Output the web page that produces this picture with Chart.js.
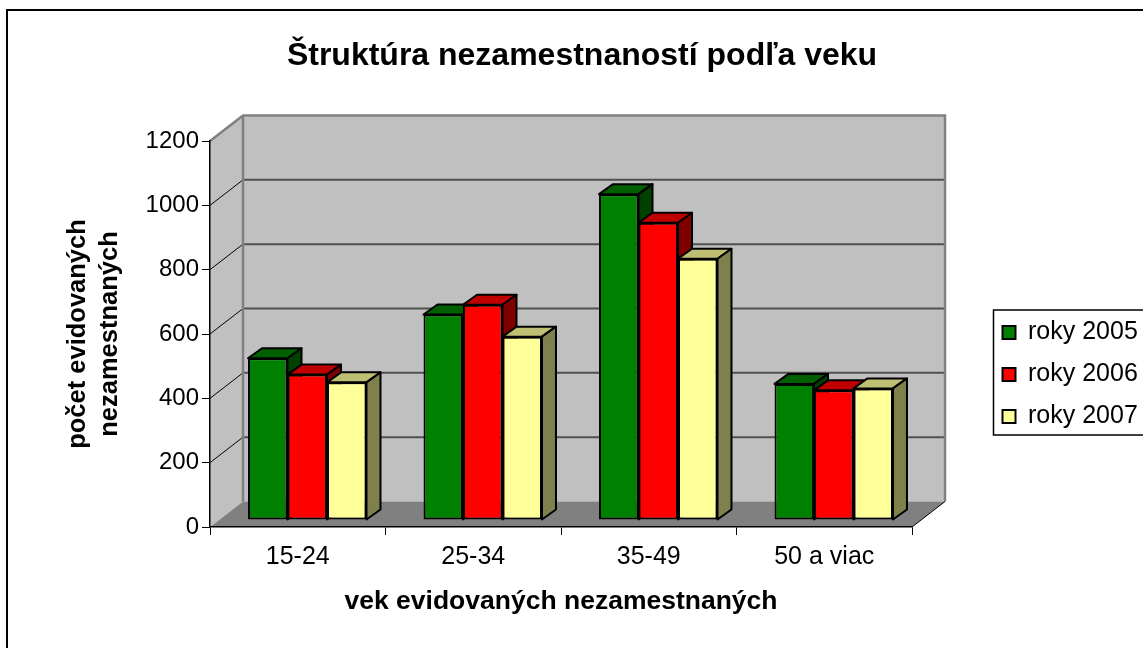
<!DOCTYPE html>
<html lang="sk">
  <head>
    <meta charset="UTF-8" />
    <title>Štruktúra nezamestnaností podľa veku</title>
    <script src="https://cdn.jsdelivr.net/npm/chart.js@4"></script>
    <style>
      html, body { margin: 0; padding: 0; background: #fff; }
      canvas { display: block; }
    </style>
  </head>

  <body>
    <canvas id="myChart" width="1143" height="648"></canvas>

    <script>
      const categories = ["15-24", "25-34", "35-49", "50 a viac"];
      const roky2005 = [503, 639, 1013, 423];
      const roky2006 = [452, 669, 924, 403];
      const roky2007 = [428, 570, 812, 409];
      const yTicks = [0, 200, 400, 600, 800, 1000, 1200];

      const FONT = "'Liberation Sans', Arial, sans-serif";

      // how far the back wall sits behind the axes, and the bars inside that depth
      const wallDepth = { x: 33, y: -25.5 };
      const barShift = { x: 9.5, y: -7 };
      const barDepth = { x: 14, y: -10 };

      const poly = (c, pts, fill) => {
        c.beginPath();
        pts.forEach((p, i) => (i ? c.lineTo(p[0], p[1]) : c.moveTo(p[0], p[1])));
        c.closePath();
        if (fill) {
          c.fillStyle = fill;
          c.fill();
        }
      };

      const walls = {
        id: "walls",
        beforeDraw(chart) {
          const c = chart.ctx;
          const { left, right, top, bottom } = chart.chartArea;
          const dx = wallDepth.x;
          const dy = wallDepth.y;
          c.save();

          // chart frame, cut off by the picture at the bottom and the right
          c.strokeStyle = "#000";
          c.lineWidth = 2;
          c.strokeRect(7, 10, 1200, 700);

          // side wall, back wall, floor
          poly(c, [[left, top], [left + dx, top + dy], [left + dx, bottom + dy], [left, bottom]], "#c0c0c0");
          poly(c, [[left + dx, top + dy], [right + dx, top + dy], [right + dx, bottom + dy], [left + dx, bottom + dy]], "#c0c0c0");
          poly(c, [[left, bottom], [left + dx, bottom + dy], [right + dx, bottom + dy], [right, bottom]], "#808080");

          // grid lines
          chart.scales.y.ticks.forEach((t) => {
            if (t.value === 0 || t.value === 1200) return;
            const y = chart.scales.y.getPixelForValue(t.value);
            c.strokeStyle = "#000";
            c.lineWidth = 1;
            c.beginPath();
            c.moveTo(left, y);
            c.lineTo(left + dx, y + dy);
            c.stroke();
            c.strokeStyle = "#505050";
            c.lineWidth = 2;
            c.beginPath();
            c.moveTo(left + dx, y + dy);
            c.lineTo(right + dx, y + dy);
            c.stroke();
          });

          // wall edges
          c.strokeStyle = "#808080";
          c.lineWidth = 2.5;
          c.beginPath();
          c.moveTo(left, top);
          c.lineTo(left + dx, top + dy);
          c.lineTo(right + dx, top + dy);
          c.lineTo(right + dx, bottom + dy);
          c.moveTo(left + dx, top + dy);
          c.lineTo(left + dx, bottom + dy);
          c.stroke();
          c.strokeStyle = "#000";
          c.lineWidth = 1;
          c.beginPath();
          c.moveTo(right, bottom);
          c.lineTo(right + dx, bottom + dy);
          c.stroke();
          c.restore();
        },
        afterDraw(chart) {
          // legend frame
          const c = chart.ctx;
          c.save();
          c.strokeStyle = "#000";
          c.lineWidth = 1.5;
          c.strokeRect(993.5, 310, 170, 125);
          c.restore();
        },
        afterLayout(chart) {
          // title is centred over the whole frame, the legend sits right of the plot
          chart.titleBlock.left = 0;
          chart.titleBlock.right = 1164;
          const lg = chart.legend;
          const w = lg.width;
          const h = lg.height;
          lg.left = 985.5;
          lg.right = lg.left + w;
          lg.top = 303;
          lg.bottom = lg.top + h;
        },
        beforeDatasetsDraw(chart) {
          // draw left to right so each bar hides the side of the one before it
          const c = chart.ctx;
          chart.getSortedVisibleDatasetMetas().forEach((meta) => {
            const ds = chart.data.datasets[meta.index];
            c.save();
            c.translate(barShift.x, barShift.y);
            meta.controller.draw();
            meta.data.forEach((bar) => {
              const { x, y, width, base } = bar.getProps(["x", "y", "width", "base"], true);
              const l = x - width / 2;
              const r = x + width / 2;
              const dx = barDepth.x;
              const dy = barDepth.y;
              c.strokeStyle = "#000";
              c.lineWidth = 2;
              c.lineJoin = "round";
              poly(c, [[l, y], [l + dx, y + dy], [r + dx, y + dy], [r, y]], ds.topColor);
              c.stroke();
              poly(c, [[r, y], [r + dx, y + dy], [r + dx, base + dy], [r, base]], ds.sideColor);
              c.stroke();
            });
            c.restore();
          });
          return false;
        },
      };

      const config = {
        type: "bar",
        data: {
          labels: categories,
          datasets: [
            {
              label: "roky 2005",
              data: roky2005,
              backgroundColor: "#008000",
              topColor: "#006000",
              sideColor: "#004000",
            },
            {
              label: "roky 2006",
              data: roky2006,
              backgroundColor: "#ff0000",
              topColor: "#c00000",
              sideColor: "#800000",
            },
            {
              label: "roky 2007",
              data: roky2007,
              backgroundColor: "#ffff99",
              topColor: "#bfbf73",
              sideColor: "#80804d",
            },
          ].map((d) => ({
            ...d,
            borderColor: "#000",
            borderWidth: 2,
            borderSkipped: false,
            categoryPercentage: 0.675,
            barPercentage: 1,
          })),
        },
        options: {
          responsive: false,
          animation: false,
          layout: { padding: { left: 0, right: 231, top: 0, bottom: 0 } },
          scales: {
            x: {
              afterFit: (s) => { s.height = 121; },
              grid: { drawOnChartArea: false, color: "#000", tickLength: 8 },
              border: { color: "#000", width: 1.5 },
              ticks: { color: "#000", font: { family: FONT, size: 25 }, padding: 7, maxRotation: 0, autoSkip: false },
              title: {
                display: true,
                text: "vek evidovaných nezamestnaných",
                color: "#000",
                font: { family: FONT, size: 26.5, weight: "bold", lineHeight: 1.2 },
                padding: { top: 0, bottom: 30 },
              },
            },
            y: {
              min: 0,
              max: 1200,
              afterFit: (s) => { s.width = 210; },
              afterBuildTicks: (s) => { s.ticks = yTicks.map((value) => ({ value })); },
              grid: { drawOnChartArea: false, color: "#000", tickLength: 8 },
              border: { color: "#000", width: 1.5 },
              ticks: { color: "#000", font: { family: FONT, size: 24 }, padding: 3, callback: (v) => String(v) },
              title: {
                display: true,
                text: ["počet evidovaných", "nezamestnaných"],
                color: "#000",
                font: { family: FONT, size: 25.5, weight: "bold", lineHeight: 1.255 },
                padding: { top: 62, bottom: 0 },
              },
            },
          },
          plugins: {
            title: {
              display: true,
              text: "Štruktúra nezamestnaností podľa veku",
              color: "#000",
              font: { family: FONT, size: 32, weight: "bold", lineHeight: 1 },
              padding: { top: 40, bottom: 69 },
            },
            legend: {
              position: "chartArea",
              align: "start",
              labels: {
                color: "#000",
                font: { family: FONT, size: 25 },
                boxWidth: 13,
                boxHeight: 13,
                padding: 17,
              },
            },
            tooltip: { enabled: false },
          },
        },
        plugins: [walls],
      };

      const myChart = new Chart(document.getElementById("myChart"), config);
    </script>
  </body>
</html>
